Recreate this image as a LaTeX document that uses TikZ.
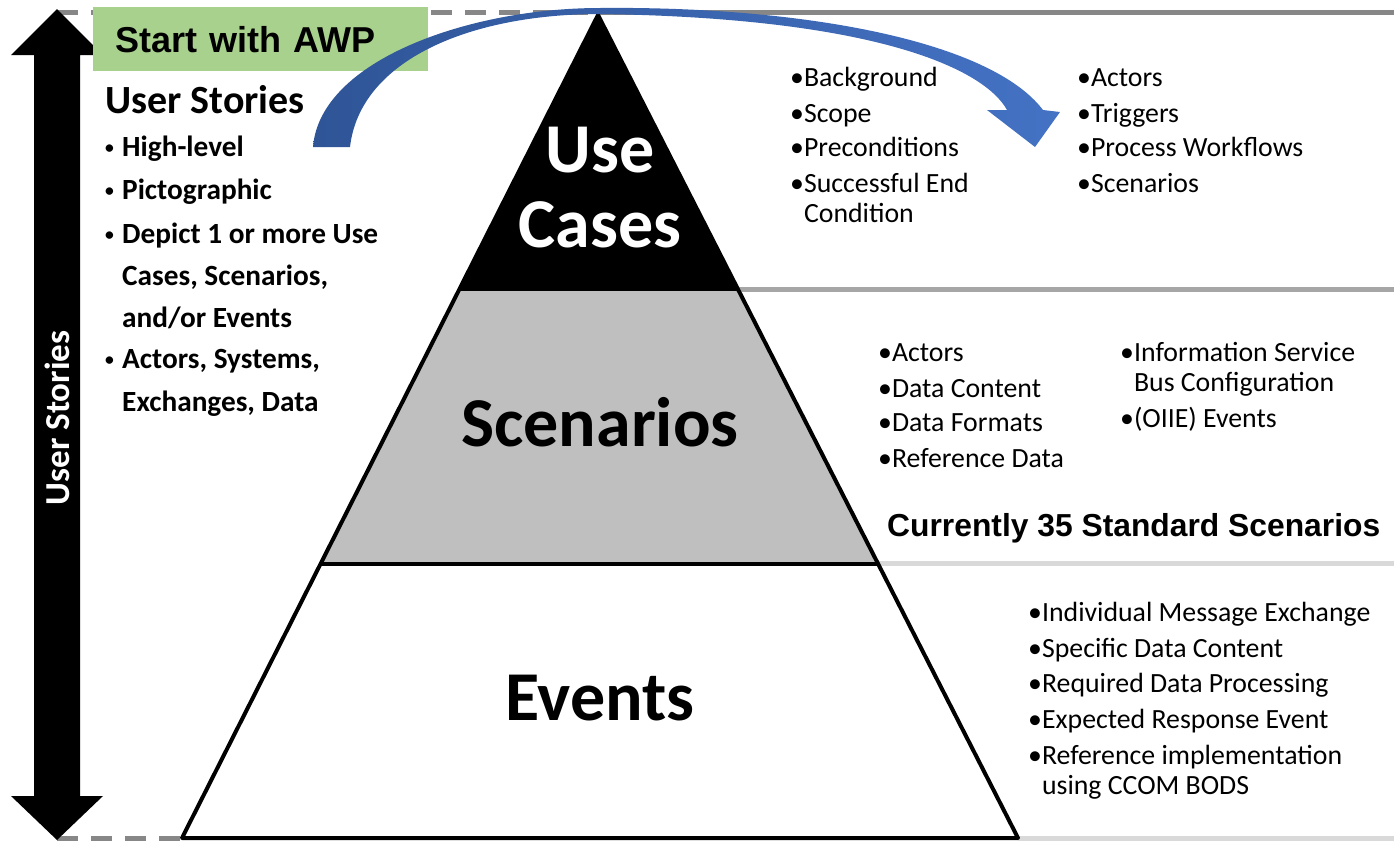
\documentclass[tikz,border=0pt]{standalone}
\usepackage{fontspec}
\setmainfont{Carlito}
\newfontfamily\arialfont{Liberation Sans}
\usepackage{tikz}
\usetikzlibrary{calc}

\definecolor{awpgreen}{HTML}{A9D18E}
\definecolor{arcdark}{HTML}{2F5597}
\definecolor{arclight}{HTML}{4472C4}
\definecolor{midgray}{HTML}{BFBFBF}
\definecolor{rulegray}{HTML}{878787}
\definecolor{rulemid}{HTML}{A6A6A6}
\definecolor{rulelight}{HTML}{D9D9D9}

\newcommand{\sbul}{\makebox[17pt][l]{\raisebox{3pt}{\scalebox{0.6}{•}}}}

\begin{document}
\begin{tikzpicture}
  [
    x=1pt, y=-1pt,
    rule/.style={line width=5pt, draw=#1},
    dash rule/.style={line width=5pt, draw=rulegray, dash pattern=on 21pt off 13pt},
    right item/.style={anchor=base west, inner sep=0pt, font=\fontsize{27.8}{30}\selectfont},
    left item/.style={anchor=base west, inner sep=0pt, font=\bfseries\fontsize{29.3}{34}\selectfont},
    level name/.style={anchor=base, inner sep=0pt, font=\bfseries\fontsize{70}{75}\selectfont}
  ]
  \useasboundingbox (0,0) rectangle (1394,844);
  \coordinate (apex) at (598,15);
  \coordinate (bl) at (182,838);
  \coordinate (br) at (1018,838);
  \coordinate (l1) at ($(apex)!1/3!(bl)$);
  \coordinate (r1) at ($(apex)!1/3!(br)$);
  \coordinate (l2) at ($(apex)!2/3!(bl)$);
  \coordinate (r2) at ($(apex)!2/3!(br)$);
  \coordinate (edge) at (1394,0);
  \coordinate (tl) at (57,12);
  \coordinate (ll) at (57,838);

  \draw [dash rule] (tl) -- (tl -| apex);
  \draw [rule=rulegray] (tl -| apex) -- (tl -| edge);
  \draw [dash rule] (ll) -- (bl);
  \draw [rule=rulelight] (br) -- (br -| edge);
  \draw [rule=rulemid, line width=4.5pt] (r1) -- (r1 -| edge);
  \draw [rule=rulelight] (r2) -- (r2 -| edge);

  \fill (apex) -- (r1) -- (l1) -- cycle;
  \fill [midgray] (l1) -- (r1) -- (r2) -- (l2) -- cycle;
  \draw [line width=4pt, line join=round] (apex) -- (bl) -- (br) -- cycle;
  \draw [line width=4pt] (l1) -- (r1) (l2) -- (r2);

  \fill (57,9) -- (103,55) -- (80,55) -- (80,796) -- (103,796) -- (57,840)
    -- (11,796) -- (34,796) -- (34,55) -- (11,55) -- cycle;
  \node [rotate=90, white, font=\bfseries\fontsize{35}{40}\selectfont] (stories) at (57,418) {User Stories};

  \node [anchor=north west, fill=awpgreen, minimum width=335pt, minimum height=64pt,
    text width=291pt, inner xsep=22pt, align=left,
    font=\arialfont\bfseries\fontsize{36}{40}\selectfont] (awp) at (93,7) {Start with AWP};

  \path [left color=arcdark, right color=arclight]
    (313,147) .. controls (320,60) and (470,8) .. (600,8)
    .. controls (800,6) and (990,40) .. (1043,110)
    -- (1060,112) -- (1035,147) -- (987,110) -- (1007,110)
    .. controls (985,70) and (880,18) .. (600,14)
    .. controls (470,14) and (360,60) .. (350,147) -- cycle;

  \node [left item, font=\bfseries\fontsize{40}{44}\selectfont] (head) at (105,113) {User Stories};
  \foreach \x/\y/\t [count=\i] in {105/156/{\sbul High-level}, 105/199/{\sbul Pictographic},
      105/243/{\sbul Depict 1 or more Use}, 122/285/{Cases, Scenarios,}, 122/327/{and/or Events},
      105/368/{\sbul Actors, Systems,}, 122/411/{Exchanges, Data}}
    \node [left item] (story\i) at (\x,\y) {\t};

  \node [level name, white] (use) at (600,172) {Use};
  \node [level name, white] (cases) at (600,247) {Cases};
  \node [level name] (scen) at (600,446) {Scenarios};
  \node [level name] (events) at (600,720) {Events};

  \foreach \x/\y/\t [count=\i] in {790/86/•Background, 790/122/•Scope, 790/156/•Preconditions,
      790/192/•Successful End, 790/222/\hphantom{•}Condition,
      1077/86/•Actors, 1077/122/•Triggers, 1077/156/•Process Workflows, 1077/192/•Scenarios}
    \node [right item] (uc\i) at (\x,\y) {\t};
  \foreach \x/\y/\t [count=\i] in {878/361/•Actors, 878/397/•Data Content, 878/431/•Data Formats,
      878/467/•Reference Data, 1120/361/•Information Service,
      1120/391/\hphantom{•}Bus Configuration, 1120/427/•(OIIE) Events}
    \node [right item] (sc\i) at (\x,\y) {\t};
  \foreach \x/\y/\t [count=\i] in {1028/621/•Individual Message Exchange, 1028/657/•Specific Data Content,
      1028/692/•Required Data Processing, 1028/728/•Expected Response Event,
      1028/764/•Reference implementation, 1028/794/\hphantom{•}using CCOM BODS}
    \node [right item] (ev\i) at (\x,\y) {\t};

  \node [anchor=base west, inner sep=0pt, font=\arialfont\bfseries\fontsize{31.8}{36}\selectfont]
    (count) at (887,536) {Currently 35 Standard Scenarios};
\end{tikzpicture}
\end{document}
